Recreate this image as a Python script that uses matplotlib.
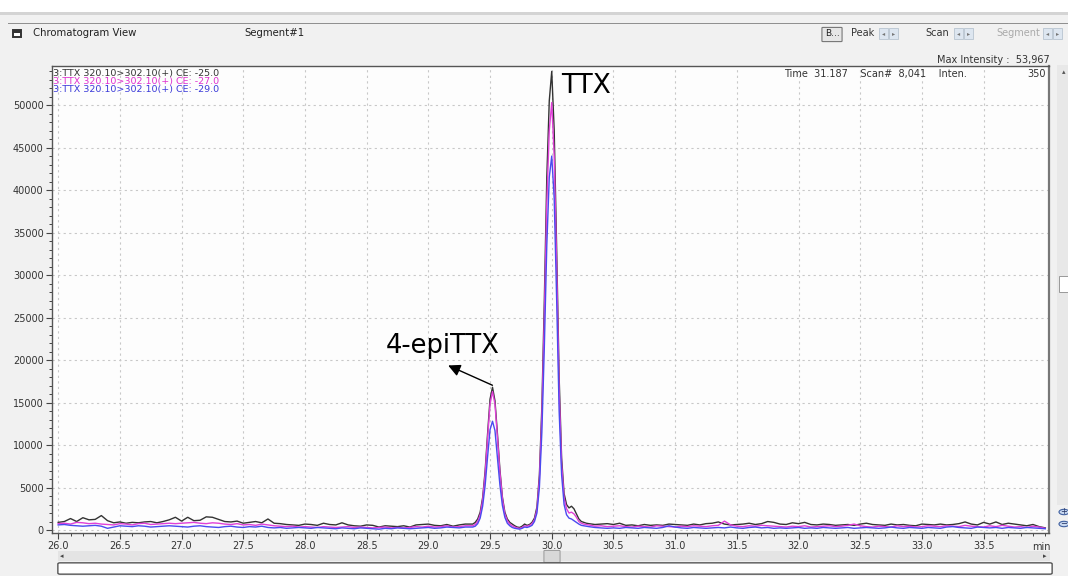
#!/usr/bin/env python3
"""
Chromatogram view: TTX / 4-epiTTX MRM traces (320.10>302.10) at three CE values
"""

import numpy as np
import matplotlib
matplotlib.use("Agg")
import matplotlib.pyplot as plt
from matplotlib.patches import Rectangle, FancyBboxPatch, Circle
from matplotlib.ticker import MultipleLocator

# time grid (min): baseline before, peak region, baseline after
time_a = np.round(np.arange(26.00, 29.301, 0.05), 2)
time_p = np.round(np.arange(29.36, 30.301, 0.02), 2)
time_b = np.round(np.arange(30.35, 34.001, 0.05), 2)

# CE -25.0 (black)
ce25_a = [900, 1000, 1350, 1000, 1450, 1200, 1250, 1700, 1100, 850,
          950, 800, 900, 850, 950, 1000, 850, 1000, 1200, 1500,
          1050, 1500, 1100, 1150, 1550, 1500, 1250, 1000, 950, 1050,
          800, 900, 1000, 850, 1300, 800, 750, 650, 600, 550,
          700, 650, 550, 800, 650, 600, 850, 600, 500, 450,
          600, 550, 350, 500, 450, 400, 500, 350, 600, 650,
          700, 550, 500, 650, 450, 600, 700]
ce25_p = [700, 900, 1300, 2100, 3800, 6900, 11300, 15400, 16800, 15200,
          11300, 7100, 3900, 2100, 1300, 900, 700, 500, 350, 300,
          450, 700, 550, 650, 900, 1400, 2700, 6500, 14500, 27000,
          41500, 50500, 53967, 47000, 33000, 18000, 8500, 4300, 3000, 2600,
          2800, 2500, 1900, 1300, 1000, 900, 800, 750]
ce25_b = [650, 700, 750, 650, 800, 550, 600, 500, 650, 550,
          600, 550, 700, 650, 600, 550, 700, 600, 750, 800,
          950, 700, 600, 650, 700, 800, 650, 750, 1000, 900,
          700, 650, 850, 750, 900, 650, 600, 700, 650, 550,
          600, 650, 550, 700, 800, 650, 600, 550, 700, 600,
          650, 550, 500, 700, 650, 600, 700, 600, 650, 750,
          950, 700, 600, 900, 700, 950, 650, 800, 700, 600,
          500, 650, 400, 250]

# CE -27.0 (magenta)
ce27_a = [750, 800, 700, 900, 850, 750, 800, 700, 650, 600,
          750, 700, 600, 750, 800, 650, 700, 750, 800, 750,
          800, 850, 900, 800, 750, 850, 800, 700, 650, 750,
          600, 650, 550, 700, 600, 500, 450, 400, 450, 350,
          400, 350, 300, 400, 350, 300, 350, 400, 300, 350,
          300, 250, 300, 350, 250, 300, 250, 300, 400, 350,
          450, 350, 400, 500, 350, 400, 500]
ce27_p = [500, 650, 1000, 1800, 3500, 6500, 10800, 14800, 16300, 14800,
          10900, 6800, 3700, 1900, 1100, 700, 500, 350, 250, 200,
          300, 500, 450, 550, 750, 1200, 2400, 6000, 13500, 25000,
          38500, 47000, 50300, 44000, 31000, 16500, 7800, 3800, 2500, 2000,
          2100, 1900, 1500, 1000, 800, 700, 650, 600]
ce27_b = [450, 500, 400, 450, 500, 400, 350, 450, 400, 350,
          500, 450, 400, 350, 450, 400, 500, 450, 400, 500,
          550, 1050, 600, 450, 400, 500, 450, 550, 500, 450,
          400, 350, 450, 400, 500, 350, 400, 450, 500, 400,
          450, 550, 700, 500, 400, 350, 450, 400, 350, 500,
          400, 450, 350, 400, 500, 450, 400, 500, 450, 400,
          550, 450, 400, 350, 500, 400, 550, 450, 350, 400,
          300, 450, 350, 200]

# CE -29.0 (blue)
ce29_a = [600, 650, 550, 500, 450, 500, 550, 450, 200, 350,
          500, 450, 400, 500, 450, 350, 400, 450, 500, 450,
          400, 350, 450, 500, 400, 350, 300, 400, 450, 350,
          300, 400, 350, 450, 300, 250, 300, 200, 250, 300,
          250, 200, 300, 250, 200, 150, 250, 200, 150, 250,
          200, 150, 100, 200, 150, 250, 200, 150, 200, 250,
          300, 200, 250, 350, 300, 250, 350]
ce29_p = [350, 450, 750, 1400, 2800, 5200, 8600, 11800, 12800, 11700,
          8500, 5300, 2900, 1500, 800, 500, 300, 200, 150, 100,
          200, 350, 300, 400, 550, 1000, 2000, 5000, 11500, 21500,
          33500, 41500, 44000, 39000, 27000, 14000, 6500, 3000, 1800, 1400,
          1300, 1100, 900, 700, 550, 500, 450, 400]
ce29_b = [300, 250, 200, 250, 200, 300, 250, 200, 300, 250,
          200, 300, 500, 350, 250, 200, 300, 250, 200, 250,
          300, 250, 350, 250, 200, 300, 350, 250, 300, 200,
          250, 200, 250, 300, 200, 250, 200, 300, 250, 200,
          250, 300, 200, 250, 300, 250, 200, 250, 350, 250,
          200, 300, 250, 200, 300, 250, 200, 350, 400, 300,
          250, 200, 350, 300, 250, 300, 200, 300, 250, 200,
          300, 250, 200, 150]

trace_labels = ["3:TTX 320.10>302.10(+) CE: -25.0",
                "3:TTX 320.10>302.10(+) CE: -27.0",
                "3:TTX 320.10>302.10(+) CE: -29.0"]
x_ticks = [26.0, 26.5, 27.0, 27.5, 28.0, 28.5, 29.0, 29.5,
           30.0, 30.5, 31.0, 31.5, 32.0, 32.5, 33.0, 33.5]
y_ticks = [0, 5000, 10000, 15000, 20000, 25000, 30000, 35000, 40000, 45000, 50000]

W, H = 1068, 576
SMALL = 7


def fx(x):
    return x / W


def fy(y):
    return 1 - y / H


def main():
    time_min = np.concatenate([time_a, time_p, time_b])
    series = [np.concatenate([ce25_a, ce25_p, ce25_b]),
              np.concatenate([ce27_a, ce27_p, ce27_b]),
              np.concatenate([ce29_a, ce29_p, ce29_b])]
    colors = ["#333333", "#e040d8", "#4a4af0"]
    text_colors = ["#333333", "#e030d0", "#3a3ad8"]

    plt.rcParams['font.family'] = ['DejaVu Sans']
    fig = plt.figure(figsize=(W / 100, H / 100), dpi=100, facecolor="#f1f1f1")

    # window chrome
    fig.patches.append(Rectangle((0, fy(12)), 1, 12 / H, transform=fig.transFigure,
                                 facecolor="white", edgecolor="none"))
    fig.patches.append(Rectangle((0, fy(15)), 1, 3 / H, transform=fig.transFigure,
                                 facecolor="#d4d4d4", edgecolor="none"))
    fig.patches.append(Rectangle((fx(8), fy(24)), fx(1060), 1 / H, transform=fig.transFigure,
                                 facecolor="#909090", edgecolor="none"))
    fig.patches.append(Rectangle((fx(13), fy(37)), fx(8), 7 / H, transform=fig.transFigure,
                                 facecolor="white", edgecolor="#333333", lw=1.4))
    fig.patches.append(Rectangle((fx(13), fy(33)), fx(8), 3 / H, transform=fig.transFigure,
                                 facecolor="#333333", edgecolor="none"))
    fig.text(fx(33), fy(33), "Chromatogram View", fontsize=7.3, va="center", color="#222222")
    fig.text(fx(244), fy(33), "Segment#1", fontsize=7.3, va="center", color="#222222")
    fig.patches.append(FancyBboxPatch((fx(823), fy(41)), fx(18), 13 / H, transform=fig.transFigure,
                                      boxstyle="round,pad=0.001", facecolor="#e6e6e6",
                                      edgecolor="#777777", lw=0.8))
    fig.text(fx(832), fy(34), "B...", fontsize=6.5, ha="center", va="center", color="#222222")
    for label, x0, bx, col in [("Peak", 851, 879, "#333333"), ("Scan", 925, 954, "#333333"),
                               ("Segment", 996, 1043, "#aaaaaa")]:
        fig.text(fx(x0), fy(33), label, fontsize=7, va="center", color=col)
        for k, arrow in enumerate(["\u25c2", "\u25b8"]):
            fig.patches.append(Rectangle((fx(bx + k * 10), fy(39)), fx(9), 11 / H,
                                         transform=fig.transFigure, facecolor="#dde6f0",
                                         edgecolor="#b8c4d0", lw=0.6))
            fig.text(fx(bx + k * 10 + 4.5), fy(33.5), arrow, fontsize=4.5, ha="center",
                     va="center", color="#777777")
    fig.text(fx(1050), fy(60), "Max Intensity :  53,967", fontsize=SMALL, ha="right",
             va="center", color="#333333")

    # right scrollbar
    fig.patches.append(Rectangle((fx(1057), fy(505)), fx(11), 440 / H, transform=fig.transFigure,
                                 facecolor="#e8e8e8", edgecolor="none"))
    fig.patches.append(Rectangle((fx(1059), fy(292)), fx(9), 16 / H, transform=fig.transFigure,
                                 facecolor="white", edgecolor="#999999", lw=0.7))
    fig.text(fx(1064), fy(72), "\u25b4", fontsize=5, ha="center", va="center", color="#555555")
    for yy, sym in [(512, "+"), (524, "\u2212")]:
        fig.patches.append(Circle((fx(1064), fy(yy)), 5 / W, transform=fig.transFigure,
                                  facecolor="#c8d8f0", edgecolor="#4060a0", lw=0.8))
        fig.text(fx(1064), fy(yy), sym, fontsize=6, ha="center", va="center", color="#203060")

    # bottom scrollbars
    fig.patches.append(Rectangle((fx(58), fy(561)), fx(992), 10 / H, transform=fig.transFigure,
                                 facecolor="#e4e4e4", edgecolor="none"))
    fig.text(fx(62), fy(556), "\u25c2", fontsize=5, ha="center", va="center", color="#444444")
    fig.text(fx(1045), fy(556), "\u25b8", fontsize=5, ha="center", va="center", color="#444444")
    fig.patches.append(FancyBboxPatch((fx(545), fy(562)), fx(14), 11 / H, transform=fig.transFigure,
                                      boxstyle="round,pad=0.001", facecolor="#d8d8d8",
                                      edgecolor="#999999", lw=0.7))
    fig.patches.append(FancyBboxPatch((fx(60), fy(573)), fx(990), 9 / H, transform=fig.transFigure,
                                      boxstyle="round,pad=0.002", facecolor="white",
                                      edgecolor="#555555", lw=1.0))
    fig.text(fx(1041), fy(547), "min", fontsize=SMALL, ha="center", va="center", color="#333333")

    # chromatogram axes
    ax = fig.add_axes([fx(52), fy(533), fx(997), (533 - 66) / H])
    ax.set_facecolor("#fdfdfd")
    for y_vals, col in zip(series, colors):
        ax.plot(time_min, y_vals, color=col, lw=1.0)

    ax.set_xlim(25.95, 34.03)
    ax.set_ylim(-350, 54600)
    ax.set_xticks(x_ticks)
    ax.set_xticklabels([f"{v:.1f}" for v in x_ticks])
    ax.set_yticks(y_ticks)
    ax.set_yticklabels([str(v) for v in y_ticks])
    ax.xaxis.set_minor_locator(MultipleLocator(0.1))
    ax.yaxis.set_minor_locator(MultipleLocator(1000))
    ax.tick_params(which="major", length=4, width=0.8, color="#444444", labelsize=SMALL,
                   labelcolor="#333333", pad=2)
    ax.tick_params(which="minor", length=2.5, width=0.7, color="#444444")
    ax.grid(which="major", color="#c8c8c8", linestyle=(0, (2, 3)), lw=0.8)
    for side in ["left", "bottom", "top"]:
        ax.spines[side].set_color("#555555")
        ax.spines[side].set_linewidth(1.0)
    ax.spines["right"].set_color("#777777")
    ax.spines["right"].set_linewidth(1.6)

    # trace legend text
    for i, (lab, col) in enumerate(zip(trace_labels, text_colors)):
        ax.text(0.001, 0.993 - i * 0.0172, lab, transform=ax.transAxes, fontsize=6.8,
                color=col, va="top", ha="left", linespacing=1.0)
    ax.text(0.734, 0.993, "Time  31.187    Scan#  8,041    Inten.", transform=ax.transAxes,
            fontsize=SMALL, color="#333333", va="top", ha="left")
    ax.text(0.997, 0.993, "350", transform=ax.transAxes, fontsize=SMALL, color="#333333",
            va="top", ha="right")

    # peak annotations
    ax.text(30.08, 52300, "TTX", fontsize=19, va="center", ha="left", color="black")
    ax.text(29.12, 21700, "4-epiTTX", fontsize=18.5, va="center", ha="center", color="black")
    ax.annotate("", xy=(29.14, 19500), xytext=(29.54, 16900),
                arrowprops=dict(arrowstyle="-|>", color="black", lw=1.0, mutation_scale=18))

    fig.savefig("out.png", dpi=100, facecolor=fig.get_facecolor())


if __name__ == "__main__":
    main()
